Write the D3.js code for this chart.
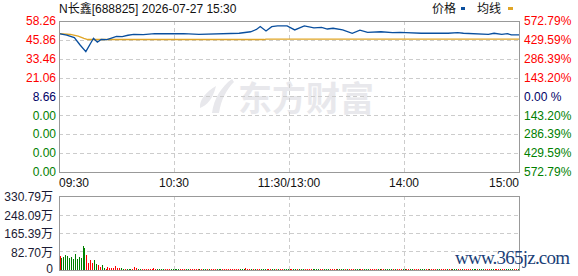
<!DOCTYPE html>
<html>
<head>
<meta charset="utf-8">
<script src="https://cdn.jsdelivr.net/npm/d3@7"></script>
<style>
  body { margin: 0; background: #fff; }
  svg { display: block; }
  text { font-family: "Liberation Sans", Arial, "Noto Sans CJK SC", sans-serif; font-size: 12px; }
</style>
</head>
<body>
<svg width="578" height="276"></svg>
<script>
//--------------------------DATA------------------------------------------------
var title = "N长鑫[688825] 2026-07-27 15:30";
var preClose = 8.66;
var priceTop = 58.26;
var leftLabels = ["58.26", "45.86", "33.46", "21.06", "8.66", "0.00", "0.00", "0.00", "0.00"];
var rightLabels = ["572.79%", "429.59%", "286.39%", "143.20%", "0.00 %", "143.20%", "286.39%", "429.59%", "572.79%"];
var timeTicks = [0, 60, 120, 180, 240];
var timeLabels = ["09:30", "10:30", "11:30/13:00", "14:00", "15:00"];
var volTicks = [330.79, 248.09, 165.39, 82.70, 0];
var volLabels = ["330.79万", "248.09万", "165.39万", "82.70万", "0"];

// minute index (0..240) and price
var priceMinutes = [0, 4, 8, 11, 14, 18, 20, 22, 25, 27, 30, 33, 36, 39, 44, 50, 65, 73, 94, 100, 103, 105, 108,
    111, 114, 119, 123, 128, 133, 137, 140, 143, 148, 153, 157, 161, 168, 174, 178, 181, 189, 203, 208, 211,
    224, 227, 231, 234, 236, 240];
var priceValues = [49.9, 49.0, 47.4, 42.5, 38.1, 46.9, 44.3, 46.2, 46.0, 46.9, 48.2, 48.0, 48.9, 49.5, 49.3, 49.9,
    49.9, 49.5, 50.2, 51.2, 52.7, 54.6, 51.7, 54.5, 55.0, 55.0, 52.4, 55.0, 53.7, 54.1, 53.0, 53.5, 52.5, 50.2,
    52.2, 50.8, 51.2, 50.6, 50.8, 50.6, 50.2, 50.2, 50.6, 50.2, 49.5, 50.2, 49.5, 49.9, 49.1, 49.1];
var avgMinutes = [0, 6, 10, 13, 15, 60, 107, 108, 240];
var avgValues = [49.9, 49.4, 48.3, 46.8, 46.1, 46.1, 46.1, 46.4, 46.4];

// volume per minute (万), r = up, g = down
var volumes = [
    62.6, 53.7, 59.5, 65.8, 62.6, 53.7, 56.8, 50.6, 71.6, 50.6, 59.5, 53.7, 107.4, 98.4, 67.0, 32.7, 44.7, 32.7, 44.7, 28.2,
    23.7, 14.8, 22.4, 8.9, 5.8, 13.4, 8.9, 8.9, 8.9, 17.9, 8.9, 8.9, 8.9, 4.5, 4.5, 4.5, 4.5, 4.5, 4.5, 13.4,
    8.9, 4.5, 4.5, 4.5, 4.5, 4.5, 4.5, 4.5, 4.5, 8.9, 4.5, 4.5, 4.5, 4.5, 4.5, 4.5, 4.5, 4.5, 4.5, 4.5,
    4.5, 4.5, 4.5, 4.5, 4.5, 4.5, 4.5, 4.5, 4.5, 4.5, 4.5, 4.5, 4.5, 4.5, 4.5, 4.5, 4.5, 4.5, 4.5, 4.5,
    4.5, 4.5, 4.5, 4.5, 4.5, 4.5, 4.5, 4.5, 4.5, 4.5, 4.5, 4.5, 4.5, 4.5, 4.5, 4.5, 4.5, 9.0, 4.5, 4.5,
    4.5, 4.5, 4.5, 4.5, 4.5, 4.5, 4.5, 4.5, 4.5, 4.5, 4.5, 4.5, 4.5, 4.5, 4.5, 4.5, 4.5, 4.5, 4.5, 4.5,
    4.5, 4.5, 4.5, 4.5, 4.5, 4.5, 4.5, 4.5, 4.5, 4.5, 4.5, 4.5, 4.5, 4.5, 4.5, 4.5, 4.5, 4.5, 4.5, 4.5,
    4.5, 4.5, 4.5, 4.5, 4.5, 4.5, 4.5, 4.5, 4.5, 4.5, 4.5, 4.5, 4.5, 4.5, 4.5, 4.5, 4.5, 4.5, 4.5, 4.5,
    4.5, 4.5, 4.5, 4.5, 4.5, 4.5, 4.5, 4.5, 4.5, 4.5, 4.5, 4.5, 4.5, 4.5, 4.5, 4.5, 4.5, 4.5, 4.5, 4.5,
    4.5, 4.5, 4.5, 4.5, 4.5, 4.5, 4.5, 4.5, 4.5, 4.5, 4.5, 4.5, 4.5, 4.5, 4.5, 4.5, 4.5, 4.5, 4.5, 4.5,
    4.5, 4.5, 4.5, 4.5, 4.5, 4.5, 4.5, 4.5, 4.5, 4.5, 4.5, 4.5, 4.5, 4.5, 4.5, 4.5, 4.5, 4.5, 4.5, 4.5,
    4.5, 4.5, 4.5, 4.5, 4.5, 4.5, 4.5, 4.5, 4.5, 4.5, 4.5, 4.5, 4.5, 4.5, 4.5, 4.5, 4.5, 4.5, 4.5, 4.5, 4.5
];
var volumeDirs =
    "rgggggggggggggrrrrgg" + "rrggrrrrrrrrggrgggrr" + "rggrrrrrrrrggggrrrgg" +
    "gggrrrggrrrrrgrggrgr" + "rrgggrrrrrrrrrgggrrr" + "grgrrgggrrrggrgrrggg" +
    "rrggrgggrrrrggggrrgg" + "grrrrggggrgrrrgggrrg" + "ggrrrrggrrggggrgrrrg" +
    "grrggrrrgggrrgrrrggr" + "rrgrrgggrrgrrrrgggrg" + "ggrrrggrrrgrrggggrrgg";

//--------------------------LAYOUT----------------------------------------------
var svg = d3.select("svg");
var left = 59, right = 519;
var pTop = 21, pBottom = 172;
var vTop = 196, vBottom = 270;
var red = "#ff0000", green = "#008000", navy = "#000066";
var crisp = function(v) { return Math.round(v) + 0.5; };

var x = d3.scaleLinear().domain([0, 240]).range([left, right]);
var span = priceTop - preClose;
var yP = d3.scaleLinear().domain([preClose - span, priceTop]).range([pBottom, pTop]);
var yV = d3.scaleLinear().domain([0, volTicks[0]]).range([vBottom, vTop]);
var priceTicks = d3.range(9).map(function(i) { return priceTop - i * span / 4; });

// watermark logo
var logo = svg.append("g").style("fill", "#e8e8ec");
logo.append("path")
    .attr("d", "M232,79 C222,86 214,98 212,113 L219,113 C221,100 226,90 234,82 Z");
logo.append("path")
    .attr("d", "M216,86 C206,92 199,100 200,108 C207,105 213,99 216,86 Z");
logo.append("text")
    .attr("x", 238).attr("y", 111)
    .style("font-family", "'Noto Sans CJK SC', sans-serif")
    .style("font-size", "34px")
    .style("font-weight", "bold")
    .text("东方财富");

// grid
var grid = svg.append("g")
    .style("stroke", "#cccccc")
    .style("stroke-dasharray", "4,3")
    .style("fill", "none");
grid.selectAll(".hp")
    .data(priceTicks.slice(1, 8))
    .enter().append("line")
    .attr("x1", left).attr("x2", right)
    .attr("y1", function(d) { return crisp(yP(d)); })
    .attr("y2", function(d) { return crisp(yP(d)); });
grid.selectAll(".hv")
    .data(volTicks.slice(1, 4))
    .enter().append("line")
    .attr("x1", left).attr("x2", right)
    .attr("y1", function(d) { return crisp(yV(d)); })
    .attr("y2", function(d) { return crisp(yV(d)); });
[[pTop, pBottom], [vTop, vBottom]].forEach(function(r) {
    grid.selectAll(null)
        .data(timeTicks.slice(1, 4))
        .enter().append("line")
        .attr("x1", function(d) { return crisp(x(d)); })
        .attr("x2", function(d) { return crisp(x(d)); })
        .attr("y1", r[0]).attr("y2", r[1]);
});

// volume bars
svg.append("g").selectAll("rect")
    .data(volumes)
    .enter().append("rect")
    .attr("x", function(d, i) { return Math.min(Math.floor(x(i)) + 1, right - 1); })
    .attr("width", 1)
    .attr("y", function(d) { return vBottom - Math.max(1, Math.round(vBottom - yV(d))); })
    .attr("height", function(d) { return Math.max(1, Math.round(vBottom - yV(d))); })
    .style("fill", function(d, i) { return volumeDirs[i] === "r" ? "#ff0000" : "#008000"; })
    .style("shape-rendering", "crispEdges");

// lines
var line = d3.line()
    .x(function(d) { return x(d[0]); })
    .y(function(d) { return yP(d[1]); });
svg.append("path")
    .attr("d", line(d3.zip(avgMinutes, avgValues)))
    .style("fill", "none").style("stroke", "#e0a526").style("stroke-width", 1.3);
svg.append("path")
    .attr("d", line(d3.zip(priceMinutes, priceValues)))
    .style("fill", "none").style("stroke", "#0a4f9e").style("stroke-width", 1.3);

// frames
var frame = svg.append("g").style("stroke", "#999999").style("fill", "none");
[[pTop, pBottom], [vTop, vBottom]].forEach(function(r) {
    frame.append("rect")
        .attr("x", left + 0.5).attr("y", r[0] + 0.5)
        .attr("width", right - left).attr("height", r[1] - r[0]);
});

// price labels
svg.append("g").selectAll("text")
    .data(priceTicks)
    .enter().append("text")
    .attr("x", 56)
    .attr("y", function(d) { return yP(d); })
    .attr("dy", "0.35em")
    .attr("text-anchor", "end")
    .style("fill", function(d, i) { return i < 4 ? red : (i === 4 ? navy : green); })
    .text(function(d, i) { return leftLabels[i]; });
svg.append("g").selectAll("text")
    .data(priceTicks)
    .enter().append("text")
    .attr("x", 524)
    .attr("y", function(d) { return yP(d); })
    .attr("dy", "0.35em")
    .style("fill", function(d, i) { return i < 4 ? red : (i === 4 ? navy : green); })
    .text(function(d, i) { return rightLabels[i]; });

// volume labels
svg.append("g").selectAll("text")
    .data(volTicks)
    .enter().append("text")
    .attr("x", 53)
    .attr("y", function(d, i) { return i === 4 ? yV(d) - 1 : yV(d) + 1; })
    .attr("dy", "0.35em")
    .attr("text-anchor", "end")
    .style("fill", "#1a1a33")
    .text(function(d, i) { return volLabels[i]; });

// time labels
svg.append("g").selectAll("text")
    .data(timeTicks)
    .enter().append("text")
    .attr("x", function(d) { return x(d); })
    .attr("y", 187)
    .attr("text-anchor", function(d, i) { return i === 0 ? "start" : (i === 4 ? "end" : "middle"); })
    .style("fill", "#111")
    .text(function(d, i) { return timeLabels[i]; });

// title and legend
svg.append("text").attr("x", 59).attr("y", 13).style("fill", "#111").text(title);
svg.append("text").attr("x", 432).attr("y", 13).style("fill", "#111").text("价格");
svg.append("rect").attr("x", 461).attr("y", 7).attr("width", 4).attr("height", 3).style("fill", "#0a4f9e");
svg.append("text").attr("x", 477).attr("y", 13).style("fill", "#111").text("均线");
svg.append("rect").attr("x", 508).attr("y", 7).attr("width", 5).attr("height", 3).style("fill", "#e0a526");

// site watermark
svg.append("text")
    .attr("x", 455).attr("y", 264)
    .attr("textLength", 115)
    .style("font-family", "'Liberation Serif', serif")
    .style("font-size", "19px")
    .style("fill", "#1b3f78")
    .text("www.365jz.com");
</script>
</body>
</html>
